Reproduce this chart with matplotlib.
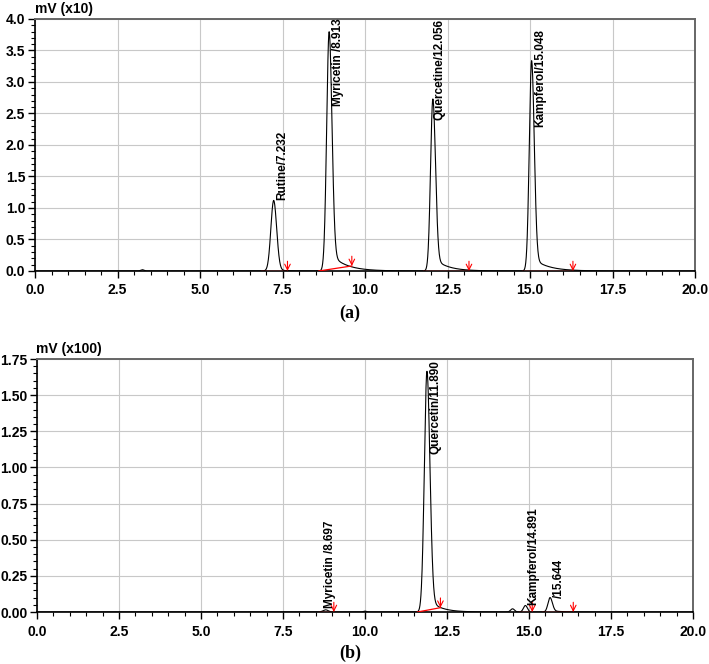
import numpy as np
import matplotlib.pyplot as plt
from matplotlib.ticker import MultipleLocator

plt.rcParams['font.family'] = ['Liberation Sans', 'DejaVu Sans']

# ---- chromatogram (a): peak apex time, height, left/right width, tail height, tail decay
a_rt = [3.25, 7.232, 8.913, 12.056, 15.048]
a_height = [0.02, 1.12, 3.80, 2.73, 3.34]
a_sl = [0.05, 0.085, 0.075, 0.07, 0.07]
a_sr = [0.05, 0.09, 0.085, 0.08, 0.08]
a_tail = [0.0, 0.02, 0.30, 0.22, 0.22]
a_tau = [0.3, 0.3, 0.45, 0.4, 0.45]
a_labels = ['Rutine/7.232', 'Myricetin /8.913', 'Quercetine/12.056', 'Kampferol/15.048']
a_label_x = [7.48, 9.18, 12.27, 15.30]
a_label_y = [1.13, 2.62, 2.40, 2.29]
# integration baselines (red): start x, start y, end x, end y
a_base_x0 = [6.85, 8.60, 11.75, 14.75]
a_base_y0 = [0.0, 0.0, 0.0, 0.0]
a_base_x1 = [7.65, 9.60, 13.15, 16.30]
a_base_y1 = [0.0, 0.08, 0.0, 0.0]

# ---- chromatogram (b)
b_rt = [8.80, 10.0, 11.890, 14.50, 14.891, 15.644]
b_height = [0.015, 0.006, 1.665, 0.022, 0.045, 0.10]
b_sl = [0.08, 0.05, 0.08, 0.06, 0.06, 0.065]
b_sr = [0.08, 0.05, 0.09, 0.06, 0.06, 0.07]
b_tail = [0.0, 0.0, 0.10, 0.0, 0.0, 0.01]
b_tau = [0.3, 0.3, 0.35, 0.3, 0.3, 0.3]
b_labels = ['Myricetin /8.697', 'Quercetin/11.890', 'Kampferol/14.891', '/15.644']
b_label_x = [8.93, 12.16, 15.12, 15.91]
b_label_y = [0.03, 1.09, 0.05, 0.10]
b_base_x0 = [8.60, 11.60, 14.70, 15.40]
b_base_y0 = [0.0, 0.0, 0.0, 0.0]
b_base_x1 = [9.05, 12.30, 15.10, 16.35]
b_base_y1 = [0.0, 0.03, 0.0, 0.0]

t = np.linspace(0, 20, 4001)


def trace(rt, h, sl, sr, tail, tau):
    y = np.zeros_like(t)
    for mu, hh, s1, s2, th, tu in zip(rt, h, sl, sr, tail, tau):
        left = t < mu
        main = np.where(left, np.exp(-0.5 * ((t - mu) / s1) ** 2),
                        np.exp(-0.5 * ((t - mu) / s2) ** 2))
        tl = np.where(left, np.exp(-0.5 * ((t - mu) / s1) ** 2),
                      np.exp(-(t - mu) / tu))
        y += (hh - th) * main + th * tl
    return y


def draw(ax, y, ymax, ymaj, ymin, fmt, labels, lx, ly, bx0, by0, bx1, by1):
    ax.plot(t, y, color='black', lw=0.8, zorder=3)
    for x0, y0, x1, y1 in zip(bx0, by0, bx1, by1):
        ax.plot([x0, x1], [y0, y1], color='red', lw=0.9, zorder=4)
        ax.annotate('', xy=(x1, y1), xytext=(0, 7), textcoords='offset points',
                    arrowprops=dict(arrowstyle='->', color='red', lw=0.8,
                                    shrinkA=0, shrinkB=0), zorder=5)
    for s, x, yy in zip(labels, lx, ly):
        ax.text(x, yy, s, rotation=90, ha='center', va='bottom',
                fontsize=8.5, fontweight='bold', zorder=6)
    ax.set_xlim(0, 20)
    ax.set_ylim(0, ymax)
    ax.xaxis.set_major_locator(MultipleLocator(2.5))
    ax.xaxis.set_minor_locator(MultipleLocator(0.5))
    ax.yaxis.set_major_locator(MultipleLocator(ymaj))
    ax.yaxis.set_minor_locator(MultipleLocator(ymin))
    ax.xaxis.set_major_formatter(lambda v, p: '%.1f' % v)
    ax.yaxis.set_major_formatter(lambda v, p: fmt % v)
    ax.grid(True, which='major', color='#c8c8c8', lw=0.8)
    ax.set_axisbelow(True)
    ax.tick_params(which='major', length=5, width=1, labelsize=10)
    ax.tick_params(axis='x', which='major', pad=4)
    ax.tick_params(axis='y', which='major', pad=2)
    ax.tick_params(which='minor', length=3, width=0.8)
    for lab in ax.get_xticklabels() + ax.get_yticklabels():
        lab.set_fontweight('bold')
    for sp in ['left', 'bottom']:
        ax.spines[sp].set_color('black')
        ax.spines[sp].set_linewidth(1.2)
    for sp in ['top', 'right']:
        ax.spines[sp].set_color('#666666')
        ax.spines[sp].set_linewidth(1.4)


fig = plt.figure(figsize=(7.09, 6.64), dpi=100)
ax1 = fig.add_axes([0.0494, 0.5919, 0.9309, 0.3795])
ax2 = fig.add_axes([0.0522, 0.0783, 0.9252, 0.3810])

draw(ax1, trace(a_rt, a_height, a_sl, a_sr, a_tail, a_tau), 4.0, 0.5, 0.1, '%.1f',
     a_labels, a_label_x, a_label_y, a_base_x0, a_base_y0, a_base_x1, a_base_y1)
draw(ax2, trace(b_rt, b_height, b_sl, b_sr, b_tail, b_tau), 1.75, 0.25, 0.05, '%.2f',
     b_labels, b_label_x, b_label_y, b_base_x0, b_base_y0, b_base_x1, b_base_y1)

fig.text(35 / 709, 1 - 9 / 664, 'mV (x10)', fontsize=10, fontweight='bold', va='center')
fig.text(36 / 709, 1 - 349 / 664, 'mV (x100)', fontsize=10, fontweight='bold', va='center')
fig.text(350 / 709, 1 - 313 / 664, '(a)', fontsize=13, fontweight='bold',
         family='Liberation Serif', ha='center', va='center')
fig.text(350 / 709, 1 - 653 / 664, '(b)', fontsize=13, fontweight='bold',
         family='Liberation Serif', ha='center', va='center')

fig.savefig('out.png', dpi=100)
